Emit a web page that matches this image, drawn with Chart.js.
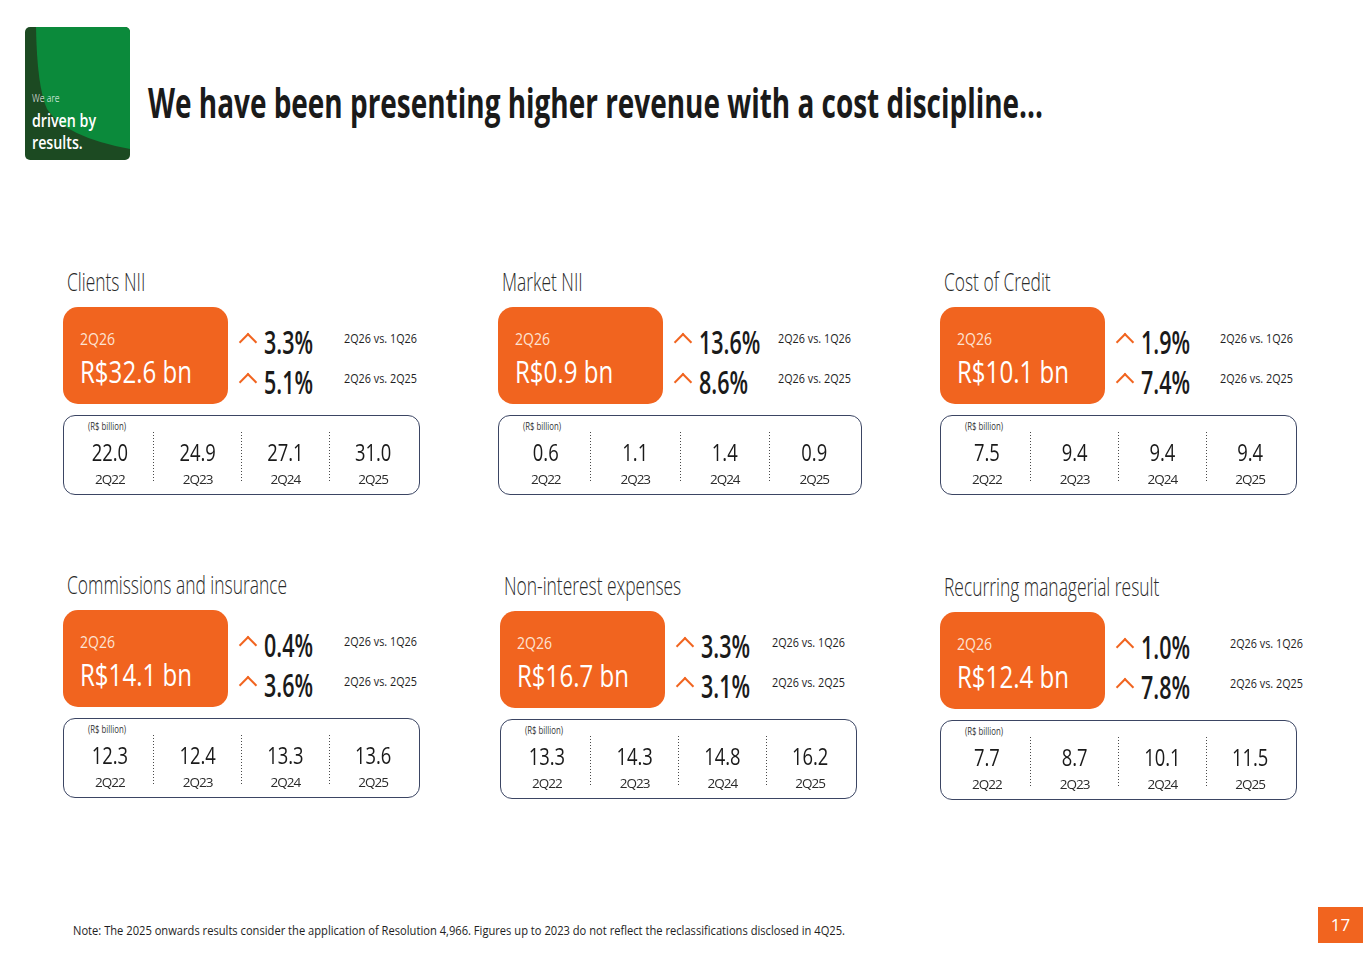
<!DOCTYPE html>
<html>
<head>
<meta charset="utf-8">
<script src="https://cdn.jsdelivr.net/npm/chart.js@4.4.1/dist/chart.umd.min.js"></script>
<style>
  html, body { margin: 0; padding: 0; background: #fff; }
  #slide { position: relative; width: 1365px; height: 965px; overflow: hidden; font-family: 'Open Sans', sans-serif; color: #1e1e1e; }
  .abs { position: absolute; white-space: nowrap; line-height: 1; transform-origin: left center; }
  .mid { transform: translateY(-50%); }
  #title { left: 148px; top: 102px; font-size: 42px; font-weight: 700; color: #1a1a1a; }
  .ttl { font-size: 25px; font-weight: 300; color: #2a2a2a; }
  .hero { position: absolute; left: 0; top: 0; width: 165px; height: 97px; background: #f1641f; border-radius: 15px; }
  .period { font-size: 17px; color: #fde3d3; }
  .amount { font-size: 31px; color: #fff; }
  .pct { font-size: 33px; font-weight: 600; color: #1a1a1a; }
  .vs { font-size: 13px; color: #1e1e1e; }
  .chev { position: absolute; width: 11px; height: 11px; border-top: 2px solid #f1641f; border-left: 2px solid #f1641f; transform: translate(-50%, -50%) rotate(45deg); }
  .strip { position: absolute; left: 0; height: 80px; border: 1.3px solid #3b4563; border-radius: 12px; box-sizing: border-box; }
  .unit { font-size: 10px; color: #333; }
  .strip canvas { position: absolute; left: 2px; top: 16px; }
  #note { left: 73px; top: 930px; font-size: 13px; color: #1e1e1e; }
  #page { position: absolute; left: 1318px; top: 907px; width: 45px; height: 36px; background: #f1641f; color: #fff; font-size: 17px; text-align: center; line-height: 36px; }
  #logo { position: absolute; left: 25px; top: 27px; width: 105px; height: 133px; border-radius: 5px; overflow: hidden; }
  #logo .abs { color: #fff; }
</style>
</head>
<body>
<div id="slide">
  <div id="logo">
    <svg width="105" height="133" viewBox="0 0 105 133">
      <rect width="105" height="133" fill="#1c4a22"/>
      <path d="M11,0 L105,0 L105,122 Q40,110 22,82 Q12,60 11,0 Z" fill="#0b8a3b"/>
    </svg>
    <div class="abs mid" id="logoA" style="left:7px; top:70px; font-size:11px; font-weight:300;">We are</div>
    <div class="abs mid" id="logoB" style="left:7px; top:93px; font-size:18px; font-weight:600;">driven by</div>
    <div class="abs mid" id="logoC" style="left:7px; top:115px; font-size:18px; font-weight:600;">results.</div>
  </div>
  <div class="abs mid" id="title">We have been presenting higher revenue with a cost discipline...</div>
  <div id="cards"></div>
  <div class="abs mid" id="note">Note: The 2025 onwards results consider the application of Resolution 4,966. Figures up to 2023 do not reflect the reclassifications disclosed in 4Q25.</div>
  <div id="page">17</div>
</div>

<script>
// ---- data ----
const metrics      = ['Clients NII', 'Market NII', 'Cost of Credit', 'Commissions and insurance', 'Non-interest expenses', 'Recurring managerial result'];
const currentLabel = '2Q26';
const currentValue = [32.6, 0.9, 10.1, 14.1, 16.7, 12.4];   // R$ bn
const qoqChange    = [3.3, 13.6, 1.9, 0.4, 3.3, 1.0];        // % vs 1Q26
const yoyChange    = [5.1, 8.6, 7.4, 3.6, 3.1, 7.8];         // % vs 2Q25
const qoqLabel     = '2Q26 vs. 1Q26';
const yoyLabel     = '2Q26 vs. 2Q25';
const periods      = ['2Q22', '2Q23', '2Q24', '2Q25'];

const clientsNII      = [22.0, 24.9, 27.1, 31.0];
const marketNII       = [0.6, 1.1, 1.4, 0.9];
const costOfCredit    = [7.5, 9.4, 9.4, 9.4];
const commissions     = [12.3, 12.4, 13.3, 13.6];
const nonIntExpenses  = [13.3, 14.3, 14.8, 16.2];
const recurringResult = [7.7, 8.7, 10.1, 11.5];
const histories = [clientsNII, marketNII, costOfCredit, commissions, nonIntExpenses, recurringResult];

// ---- card placement on the slide (top-left of the orange box) ----
const cardLayout = [
  { x: 63,  y: 307, w: 357, vs: 281 },
  { x: 498, y: 307, w: 364, vs: 280 },
  { x: 940, y: 307, w: 357, vs: 280 },
  { x: 63,  y: 610, w: 357, vs: 281 },
  { x: 500, y: 611, w: 357, vs: 272 },
  { x: 940, y: 612, w: 357, vs: 290 },
];

const ORANGE = '#f1641f';
const fmt = v => v.toFixed(1);

function el(parent, cls, text, left, top) {
  const d = document.createElement('div');
  d.className = cls;
  if (text != null) d.textContent = text;
  if (left != null) d.style.left = left + 'px';
  if (top != null) d.style.top = top + 'px';
  parent.appendChild(d);
  return d;
}

// horizontally squeeze text to mimic the condensed corporate face
function squeeze(nodes, sample, target) {
  const k = target / sample.getBoundingClientRect().width;
  nodes.forEach(n => { n.style.transform = 'translateY(-50%) scaleX(' + k + ')'; });
}

// value labels written above each period, placed by the x scale
const valueLabels = {
  id: 'valueLabels',
  beforeDraw(chart) { chart.ctx.letterSpacing = '-1px'; },
  afterDatasetsDraw(chart) {
    const { ctx, chartArea, scales: { x } } = chart;
    const vals = chart.data.datasets[0].data;
    ctx.save();
    ctx.letterSpacing = '0px';
    ctx.font = '400 23px "Open Sans"';
    ctx.fillStyle = '#1a1a1a';
    ctx.textAlign = 'center';
    ctx.textBaseline = 'middle';
    vals.forEach((v, i) => {
      ctx.save();
      ctx.translate(x.getPixelForValue(i), chartArea.top + 22);
      ctx.scale(0.8, 1);
      ctx.fillText(fmt(v), 0, 0);
      ctx.restore();
    });
    ctx.restore();
  }
};

function sepColor(c) { return c.index > 0 ? '#4a4a4a' : 'rgba(0,0,0,0)'; }

function makeStrip(canvas, values) {
  return new Chart(canvas, {
    type: 'line',
    data: {
      labels: periods,
      datasets: [{ data: values, showLine: false, pointRadius: 0, pointHoverRadius: 0 }],
    },
    options: {
      responsive: false,
      animation: false,
      events: [],
      layout: { padding: 0 },
      plugins: { legend: { display: false }, tooltip: { enabled: false } },
      scales: {
        x: {
          offset: true,
          afterFit: s => { s.height = 22; },
          grid: {
            offset: true,
            color: sepColor,
            tickColor: sepColor,
            lineWidth: 1,
            tickLength: 15,
            tickBorderDash: [1, 2],
          },
          border: { display: false, dash: [1, 2] },
          ticks: {
            padding: -11,
            maxRotation: 0,
            color: '#2a2a2a',
            font: { family: 'Open Sans', size: 13.5 },
          },
        },
        y: { display: false },
      },
    },
    plugins: [valueLabels],
  });
}

function build() {
  const root = document.getElementById('cards');
  const parts = { ttl: [], period: [], amount: [], pct: [], vs: [], unit: [] };

  metrics.forEach((name, i) => {
    const L = cardLayout[i];
    const card = el(root, '', null, L.x, L.y);
    card.style.position = 'absolute';

    parts.ttl.push(el(card, 'abs mid ttl', name, 4, -26));

    const hero = el(card, 'hero');
    parts.period.push(el(hero, 'abs mid period', currentLabel, 17, 31));
    parts.amount.push(el(hero, 'abs mid amount', 'R$' + fmt(currentValue[i]) + ' bn', 17, 64));

    [[qoqChange[i], qoqLabel, 34, 31], [yoyChange[i], yoyLabel, 74, 71]].forEach(([chg, lbl, py, vy]) => {
      el(card, 'chev', null, 185, py + 1);
      parts.pct.push(el(card, 'abs mid pct', fmt(chg) + '%', 201, py));
      parts.vs.push(el(card, 'abs mid vs', lbl, L.vs, vy));
    });

    const strip = el(card, 'strip', null, 0, 108);
    strip.style.width = L.w + 'px';
    parts.unit.push(el(strip, 'abs mid unit', '(R$ billion)', 24, 10));

    const cv = document.createElement('canvas');
    const cw = L.w - 6, ch = 58;
    cv.width = cw; cv.height = ch;
    cv.style.width = cw + 'px'; cv.style.height = ch + 'px';
    strip.appendChild(cv);
    makeStrip(cv, histories[i]);
  });

  squeeze(parts.ttl, parts.ttl[3], 220);
  squeeze(parts.period, parts.period[0], 35);
  squeeze(parts.amount, parts.amount[0], 112);
  squeeze(parts.pct, parts.pct[0], 49);
  squeeze(parts.vs, parts.vs[0], 73);
  squeeze(parts.unit, parts.unit[0], 38);

  const t = document.getElementById('title');
  squeeze([t], t, 895);
  const n = document.getElementById('note');
  squeeze([n], n, 772);
  const b = document.getElementById('logoB');
  squeeze([document.getElementById('logoA'), b, document.getElementById('logoC')], b, 64);
}

document.fonts.ready.then(build);
</script>
</body>
</html>
